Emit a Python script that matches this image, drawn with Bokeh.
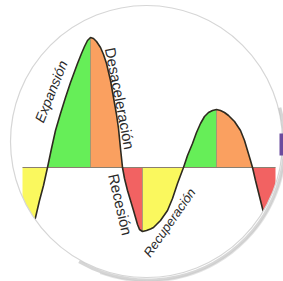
import numpy as np
from bokeh.plotting import figure
from bokeh.models import Range1d
from bokeh.core.properties import value
from bokeh.embed import file_html
from bokeh.resources import INLINE

# ---- data: economic cycle curve (time, activity relative to trend) ----
cycle_t = [22, 28, 31, 35, 39, 43, 47, 51, 55, 60, 65, 70, 77, 81, 84, 87, 90,
           93, 96, 100, 103, 106, 110, 113, 116, 118, 120, 122, 124, 127, 130,
           133, 135, 137, 139, 142, 146, 150, 153, 160, 167, 172, 177, 180, 183,
           187, 192, 196, 200, 204, 208, 212, 216, 220, 224, 228, 234, 240, 244,
           247, 250, 252, 255, 258, 262, 266, 270, 275]
cycle_v = [-98, -75, -66, -50, -33, -18, 0, 19, 37, 54, 70, 85, 104, 114, 121,
           127, 130, 129, 126, 120, 113, 104, 87, 70, 53, 39, 19, 0, -11, -23,
           -33, -43, -50, -57, -62, -64, -63, -61.5, -60, -53, -43, -31, -16,
           -8, 0, 12, 24, 35, 44, 51, 55, 57, 58, 57, 55, 52, 46, 37, 27, 17,
           7, 0, -13, -25, -41, -57, -73, -91]

# phase boundaries (time) and phase colours
phase_edges = [22, 47, 90, 122, 142, 183, 216, 252, 275]
phase_colors = ["#FAF85E", "#66EE58", "#FAA060", "#F26262",
                "#FAF85E", "#66EE58", "#FAA060", "#F26262"]
extrema_t = [90, 142, 216]

labels = ["Expansión", "Desaceleración", "Recesión", "Recuperación"]

# ---- figure: 1 data unit == 1 pixel on both axes ----
p = figure(width=283, height=281, output_backend="svg", toolbar_location=None,
           x_range=Range1d(0, 283), y_range=Range1d(-114, 167),
           min_border=0, background_fill_color="white",
           border_fill_color="white")
p.axis.visible = False
p.grid.visible = False
p.outline_line_color = None

t = np.array(cycle_t, dtype=float)
v = np.array(cycle_v, dtype=float)

for a, b, c in zip(phase_edges[:-1], phase_edges[1:], phase_colors):
    m = (t >= a) & (t <= b)
    p.varea(x=t[m], y1=np.zeros(m.sum()), y2=v[m], fill_color=c)

# thin separators at the turning points
for xe in extrema_t:
    ye = v[t == xe][0]
    p.segment(x0=[xe], y0=[0], x1=[xe], y1=[ye], line_color="#7a7a6a",
              line_alpha=0.6, line_width=1)

# baseline (trend)
p.segment(x0=[phase_edges[0]], y0=[0], x1=[phase_edges[-1]], y1=[0],
          line_color="#8a7f70", line_width=1.2)

# cycle curve
p.line(t, v, line_color="#2e2a20", line_width=1.6)

# circular frame: white mask outside the circle
cx, cy, r = 146, 26, 136
p.annulus(x=[cx], y=[cy], inner_radius=r, outer_radius=400,
          fill_color="white", line_color=None)
p.circle(x=[cx], y=[cy], radius=r, fill_color=None,
         line_color="#d6d6d6", line_width=1.2)
p.arc(x=[cx + 1], y=[cy - 1.5], radius=r + 1, start_angle=np.radians(-120),
      end_angle=np.radians(15), line_color="#b4b4b4", line_width=3,
      line_alpha=0.55)
p.arc(x=[cx + 1], y=[cy - 1.5], radius=r + 2.5, start_angle=np.radians(-110),
      end_angle=np.radians(5), line_color="#c8c8c8", line_width=2,
      line_alpha=0.5)

# small purple tab at right edge (decoration)
p.quad(left=[279], right=[284], top=[34], bottom=[12],
       fill_color="#6b4c9e", line_color=None)

# labels
font = value("Liberation Sans")
p.text(x=[50.5], y=[76], text=[labels[0]], angle=[np.radians(68)],
       text_font=font, text_font_size="14px", text_font_style="italic",
       text_align="center", text_baseline="middle", text_color="#2b2b2b")
p.text(x=[119.5], y=[69], text=[labels[1]], angle=[np.radians(-79)],
       text_font=font, text_font_size="15px",
       text_align="center", text_baseline="middle", text_color="#2b2b2b")
p.text(x=[120], y=[-37], text=[labels[2]], angle=[np.radians(-77)],
       text_font=font, text_font_size="15px",
       text_align="center", text_baseline="middle", text_color="#2b2b2b")
p.text(x=[169], y=[-55], text=[labels[3]], angle=[np.radians(55)],
       text_font=font, text_font_size="13px", text_font_style="italic",
       text_align="center", text_baseline="middle", text_color="#2b2b2b")

open("out.html", "w").write(file_html(p, INLINE))
